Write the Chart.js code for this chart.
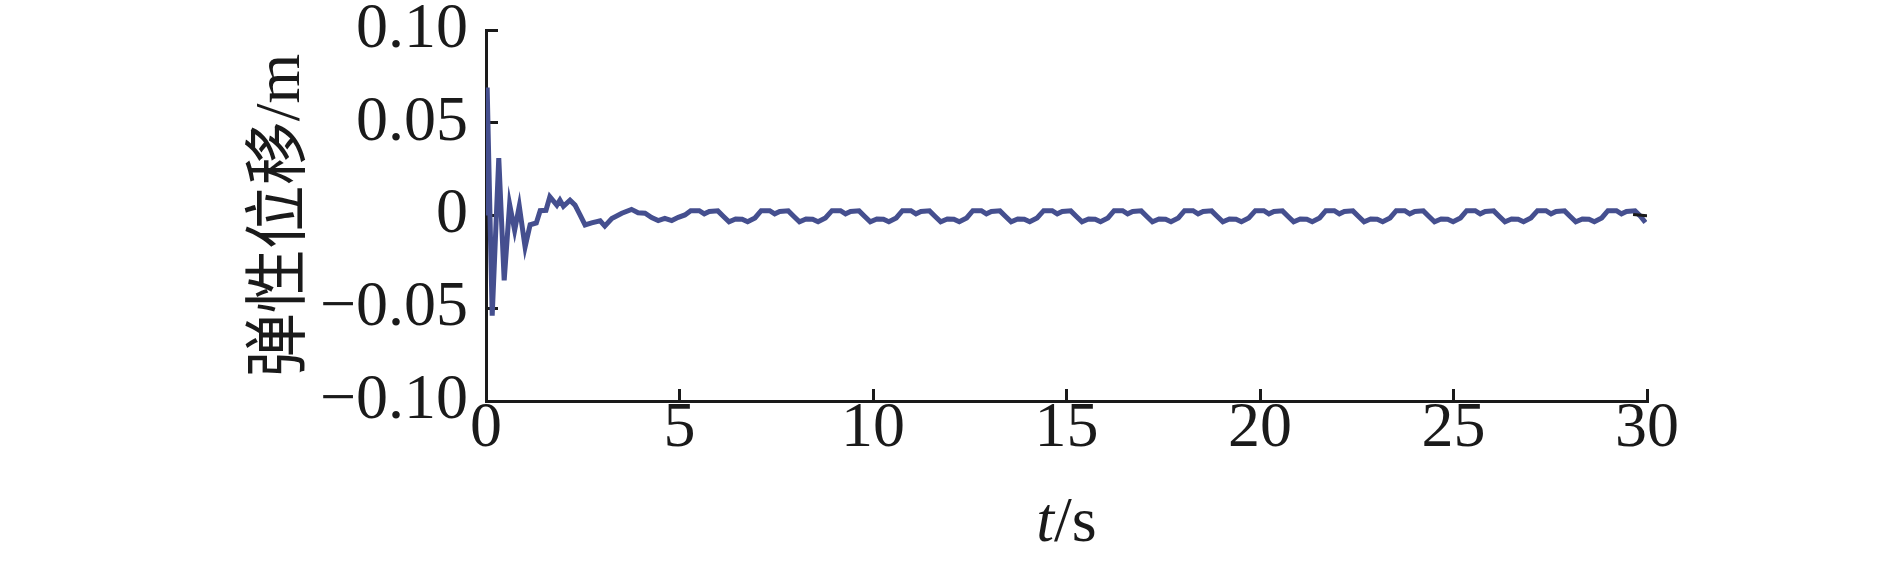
<!DOCTYPE html>
<html>
<head>
<meta charset="utf-8">
<title>弹性位移</title>
<script src="https://cdn.jsdelivr.net/npm/chart.js@4.4.1/dist/chart.umd.min.js"></script>
<style>
  html, body { margin: 0; padding: 0; background: #fff; }
  #wrap { width: 1890px; height: 562px; }
</style>
</head>
<body>
<div id="wrap"><canvas id="myChart" width="1890" height="562"></canvas></div>
<script>
// t/s
var time = [
  0, 0.03, 0.16, 0.33, 0.47, 0.61, 0.74, 0.86, 1.01, 1.14, 1.30, 1.40, 1.55, 1.65, 1.83, 1.91, 2.00, 2.17,
  2.30, 2.43, 2.56, 2.73, 2.95, 3.07, 3.25, 3.51, 3.76, 3.93, 4.11, 4.28, 4.45, 4.62, 4.80, 4.97, 5.14,
  5.29, 5.51, 5.64, 5.77, 5.99, 6.13, 6.28, 6.45, 6.62, 6.76, 6.95,
  7.11, 7.33, 7.46, 7.59, 7.81, 7.95, 8.10, 8.27, 8.44, 8.58, 8.77,
  8.94, 9.16, 9.29, 9.42, 9.64, 9.78, 9.93, 10.10, 10.27, 10.41, 10.60,
  10.76, 10.98, 11.11, 11.24, 11.46, 11.60, 11.75, 11.92, 12.09, 12.23, 12.42,
  12.58, 12.80, 12.93, 13.06, 13.28, 13.42, 13.57, 13.74, 13.91, 14.05, 14.24,
  14.41, 14.63, 14.76, 14.89, 15.11, 15.25, 15.40, 15.57, 15.74, 15.88, 16.07,
  16.23, 16.45, 16.58, 16.71, 16.93, 17.07, 17.22, 17.39, 17.56, 17.70, 17.89,
  18.05, 18.27, 18.40, 18.53, 18.75, 18.89, 19.04, 19.21, 19.38, 19.52, 19.71,
  19.88, 20.10, 20.23, 20.36, 20.58, 20.72, 20.87, 21.04, 21.21, 21.35, 21.54,
  21.70, 21.92, 22.05, 22.18, 22.40, 22.54, 22.69, 22.86, 23.03, 23.17, 23.36,
  23.52, 23.74, 23.87, 24.00, 24.22, 24.36, 24.51, 24.68, 24.85, 24.99, 25.18,
  25.34, 25.56, 25.69, 25.82, 26.04, 26.18, 26.33, 26.50, 26.67, 26.81, 27.00,
  27.17, 27.39, 27.52, 27.65, 27.87, 28.01, 28.16, 28.33, 28.50, 28.64, 28.83,
  28.99, 29.21, 29.34, 29.47, 29.69, 29.83, 29.96
]

// 弹性位移/m
var displacement = [
  0, 0.069, -0.054, 0.031, -0.035, 0.006, -0.008, 0.005, -0.017, -0.005, -0.004, 0.0026, 0.0028, 0.0101, 0.0056, 0.0083, 0.005, 0.0083,
  0.0056, 0.0003, -0.0051, -0.004, -0.0029, -0.0057, -0.0016, 0.0012, 0.0033, 0.0015, 0.0012, -0.0011, -0.0027, -0.0015, -0.0027, -0.0010, 0.0003,
  0.0026, 0.0026, 0.0009, 0.0022, 0.0025, -0.0004, -0.0034, -0.0019, -0.0020, -0.0034, -0.0013,
  0.0026, 0.0026, 0.0009, 0.0022, 0.0025, -0.0004, -0.0034, -0.0019, -0.0020, -0.0034, -0.0013,
  0.0026, 0.0026, 0.0009, 0.0022, 0.0025, -0.0004, -0.0034, -0.0019, -0.0020, -0.0034, -0.0013,
  0.0026, 0.0026, 0.0009, 0.0022, 0.0025, -0.0004, -0.0034, -0.0019, -0.0020, -0.0034, -0.0013,
  0.0026, 0.0026, 0.0009, 0.0022, 0.0025, -0.0004, -0.0034, -0.0019, -0.0020, -0.0034, -0.0013,
  0.0026, 0.0026, 0.0009, 0.0022, 0.0025, -0.0004, -0.0034, -0.0019, -0.0020, -0.0034, -0.0013,
  0.0026, 0.0026, 0.0009, 0.0022, 0.0025, -0.0004, -0.0034, -0.0019, -0.0020, -0.0034, -0.0013,
  0.0026, 0.0026, 0.0009, 0.0022, 0.0025, -0.0004, -0.0034, -0.0019, -0.0020, -0.0034, -0.0013,
  0.0026, 0.0026, 0.0009, 0.0022, 0.0025, -0.0004, -0.0034, -0.0019, -0.0020, -0.0034, -0.0013,
  0.0026, 0.0026, 0.0009, 0.0022, 0.0025, -0.0004, -0.0034, -0.0019, -0.0020, -0.0034, -0.0013,
  0.0026, 0.0026, 0.0009, 0.0022, 0.0025, -0.0004, -0.0034, -0.0019, -0.0020, -0.0034, -0.0013,
  0.0026, 0.0026, 0.0009, 0.0022, 0.0025, -0.0004, -0.0034, -0.0019, -0.0020, -0.0034, -0.0013,
  0.0026, 0.0026, 0.0009, 0.0022, 0.0025, -0.0004, -0.0034, -0.0019, -0.0020, -0.0034, -0.0013,
  0.0026, 0.0026, 0.0009, 0.0022, 0.0025, -0.0004, -0.0038
]

// short black trace visible at the very end
var endTime = [29.64, 30]
var endDisp = [0.0005, -0.0002]

var xTicks = [0, 5, 10, 15, 20, 25, 30]
var yTicks = [-0.1, -0.05, 0, 0.05, 0.1]
var yTickLabels = ['\u22120.10', '\u22120.05', '0', '0.05', '0.10']

var lineColor = 'rgb(69, 79, 143)'
var axisColor = '#1a1a1a'
var serif = '"Liberation Serif", "Times New Roman", serif'
var titleFont = '"Liberation Serif", "Noto Sans CJK SC", serif'

function toPoints(xs, ys) {
  return xs.map((x, i) => ({ x: x, y: ys[i] }))
}

// x title with italic t and upright /s
var xTitle = {
  id: 'xTitle',
  afterDraw(chart) {
    var ctx = chart.ctx
    var area = chart.chartArea
    var italic = 'italic 64px ' + serif
    var normal = '64px ' + serif
    ctx.save()
    ctx.fillStyle = axisColor
    ctx.textBaseline = 'alphabetic'
    ctx.font = italic
    var w1 = ctx.measureText('t').width
    ctx.font = normal
    var w2 = ctx.measureText('/s').width
    var x0 = (area.left + area.right) / 2 - (w1 + w2) / 2
    var y0 = chart.scales.x.bottom - 21
    ctx.font = italic
    ctx.fillText('t', x0, y0)
    ctx.font = normal
    ctx.fillText('/s', x0 + w1, y0)
    ctx.restore()
  }
}

var ctx = document.getElementById('myChart').getContext('2d')
var chart = new Chart(ctx, {
  type: 'line',
  data: {
    datasets: [{
      data: toPoints(time, displacement),
      borderColor: lineColor,
      borderWidth: 5,
      pointRadius: 0,
      tension: 0,
      fill: false,
      order: 2
    }, {
      data: toPoints(endTime, endDisp),
      borderColor: axisColor,
      borderWidth: 3,
      pointRadius: 0,
      tension: 0,
      fill: false,
      order: 1
    }]
  },
  options: {
    responsive: false,
    animation: false,
    devicePixelRatio: 1,
    layout: { padding: { top: 30, right: 243, left: 0, bottom: 0 } },
    plugins: {
      legend: { display: false },
      tooltip: { enabled: false }
    },
    scales: {
      x: {
        type: 'linear',
        min: 0,
        max: 30,
        afterBuildTicks: s => { s.ticks = xTicks.map(v => ({ value: v })) },
        afterFit: s => { s.height = 161; s.paddingLeft = 0; s.paddingRight = 0 },
        grid: { display: true, drawOnChartArea: false, drawTicks: true, tickLength: -12, tickWidth: 3, tickColor: axisColor },
        border: { display: true, color: axisColor, width: 3 },
        ticks: { color: axisColor, font: { family: serif, size: 64 }, padding: 2, maxRotation: 0, autoSkip: false }
      },
      y: {
        type: 'linear',
        min: -0.1,
        max: 0.1,
        afterBuildTicks: s => { s.ticks = yTicks.map(v => ({ value: v })) },
        afterFit: s => { s.width = 486; s.paddingTop = 0; s.paddingBottom = 0 },
        grid: { display: true, drawOnChartArea: false, drawTicks: true, tickLength: -12, tickWidth: 3, tickColor: axisColor },
        border: { display: true, color: axisColor, width: 3 },
        ticks: {
          color: axisColor,
          font: { family: serif, size: 64 },
          padding: 30,
          callback: v => yTickLabels[yTicks.indexOf(v)]
        },
        title: {
          display: true,
          text: '弹性位移/m',
          color: axisColor,
          font: { family: titleFont, size: 64 },
          padding: { top: 244, bottom: 0 }
        }
      }
    }
  },
  plugins: [xTitle]
})
</script>
</body>
</html>
